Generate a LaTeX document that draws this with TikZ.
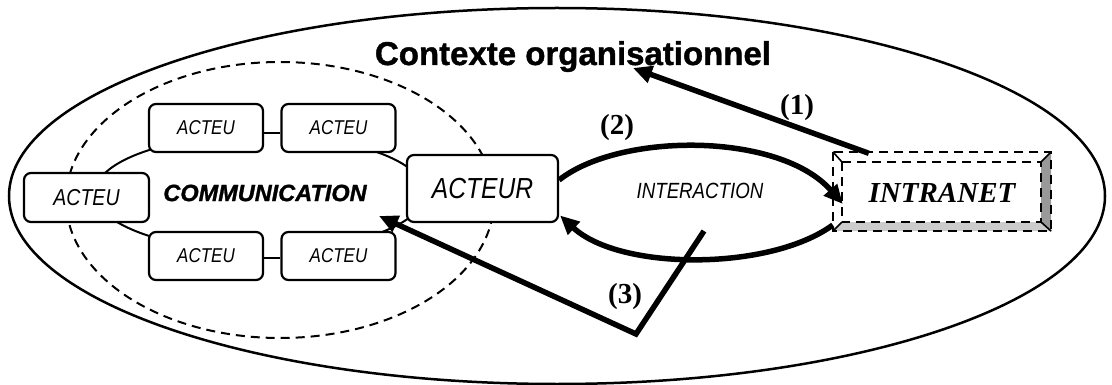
\documentclass[tikz,border=0pt]{standalone}
\usepackage{fontspec}
\setmainfont{Liberation Serif}
\newfontfamily\arial{Liberation Sans}
\newfontfamily\arialbold[FakeBold=1.2]{Liberation Sans}
\newfontfamily\arialn[FakeStretch=0.85]{Liberation Sans}
\usetikzlibrary{arrows.meta,calc}
\begin{document}
\begin{tikzpicture}[x=1pt,y=-1pt,
  actbox/.style={draw, line width=2.2pt, rounded corners=7pt, fill=white, inner sep=0pt},
  smallbox/.style={actbox, minimum width=114pt, minimum height=48pt, font=\arialn\itshape\fontsize{20}{22}\selectfont},
  bigarrow/.style={line width=5.5pt, -{Triangle[length=19pt,width=17pt]}},
  lbl/.style={font=\bfseries\fontsize{29}{31}\selectfont, inner sep=0pt},
  dashline/.style={line width=2pt, dash pattern=on 9pt off 6pt}
]
\useasboundingbox (0,0) rectangle (1112,385);
% outer context ellipse
\draw[line width=2.5pt] (557,196) ellipse [x radius=548, y radius=188];
% dashed communication zone
\draw[dashline] (280,200) ellipse [x radius=214, y radius=138];
% communication ring
\draw[line width=2pt] (260,193) ++(91:165 and 58) arc[start angle=91, end angle=269, x radius=165, y radius=58];
\draw[line width=2pt] (260,193) ++(-81:165 and 58) arc[start angle=-81, end angle=81, x radius=165, y radius=58];

% title
\node[anchor=base, inner sep=0pt, font=\arialbold\bfseries\fontsize{33}{36}\selectfont] (title) at (573,65) {Contexte organisationnel};

% actors
\node[smallbox] (a1) at (206,128) {ACTEU};
\node[smallbox] (a2) at (338.5,128) {ACTEU};
\node[smallbox] (a4) at (206,256) {ACTEU};
\node[smallbox] (a5) at (338.5,256) {ACTEU};
\node[actbox, minimum width=125pt, minimum height=49pt, font=\arialn\itshape\fontsize{23}{25}\selectfont] (a3) at (86.5,197.5) {ACTEU};
\node[actbox, minimum width=151pt, minimum height=67pt, font=\arialn\itshape\fontsize{29}{31}\selectfont] (acteur) at (482.5,188.5) {ACTEUR};
\draw[line width=2pt] ([yshift=-5pt]a1.east) -- ([yshift=-5pt]a2.west);
\draw[line width=2pt] ([yshift=-2pt]a4.east) -- ([yshift=-2pt]a5.west);

\node[inner sep=0pt, font=\arialbold\bfseries\itshape\fontsize{23.5}{26}\selectfont] (comm) at (265,193) {COMMUNICATION};
\node[inner sep=0pt, font=\arialn\itshape\fontsize{22}{24}\selectfont] (inter) at (700,191) {INTERACTION};

% intranet bevelled box
\node[minimum width=218pt, minimum height=79pt, inner sep=0pt, font=\bfseries\itshape\fontsize{29}{31}\selectfont] (intranet) at (942,193) {INTRANET};
\coordinate (o1) at ($(intranet.north west)+(0,-1.5)$);
\coordinate (o2) at ($(intranet.north east)+(0,-1.5)$);
\coordinate (o3) at ($(intranet.south east)+(0,-1.5)$);
\coordinate (o4) at ($(intranet.south west)+(0,-1.5)$);
\coordinate (i1) at ($(o1)+(9,10)$);
\coordinate (i2) at ($(o2)+(-10,10)$);
\coordinate (i3) at ($(o3)+(-10,-9)$);
\coordinate (i4) at ($(o4)+(9,-9)$);
\fill[black!40] (o2) -- (o3) -- (i3) -- (i2) -- cycle;
\fill[black!20] (o4) -- (o3) -- (i3) -- (i4) -- cycle;
\draw[dashline] (o1) rectangle (o3);
\draw[dashline] (i1) rectangle (i3);
\draw[line width=1.6pt] (o1) -- (i1) (o2) -- (i2) (o3) -- (i3) (o4) -- (i4);

% connectors
\coordinate (t1) at (633,68);
\coordinate (p3a) at (704,231);
\coordinate (p3b) at (636,334);
\coordinate (t3) at (379,216);
\draw[bigarrow] ([xshift=36pt]intranet.north west) -- (t1);
\draw[bigarrow] ([yshift=8.5pt]acteur.east) .. controls (620,132) and (780,132) .. ([xshift=10pt,yshift=-11pt]intranet.west);
\draw[bigarrow] ([yshift=-32pt]intranet.west) .. controls (770,271) and (620,271) .. ([xshift=1pt,yshift=-27pt]acteur.east);
\draw[bigarrow, line join=miter] (p3a) -- (p3b) -- (t3);

% labels
\node[lbl] (l1) at (797,108) {(1)};
\node[lbl] (l2) at (617,128) {(2)};
\node[lbl] (l3) at (625,297) {(3)};
\end{tikzpicture}
\end{document}
